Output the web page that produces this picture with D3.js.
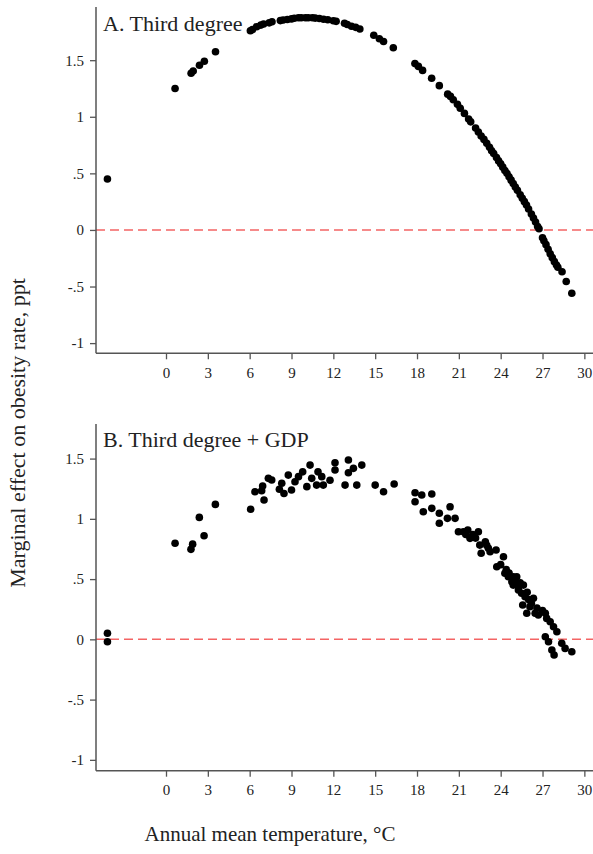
<!DOCTYPE html>
<html>
<head>
<meta charset="utf-8">
<script src="https://cdn.jsdelivr.net/npm/d3@7/dist/d3.min.js"></script>
<style>
  html, body { margin: 0; padding: 0; background: #fff; }
  svg { display: block; }
</style>
</head>
<body>
<svg id="chart" width="593" height="854"></svg>
<script>
// Marginal effect of annual mean temperature on the obesity rate (ppt)
const xTicks = [0, 3, 6, 9, 12, 15, 18, 21, 24, 27, 30];
const yTicks = [-1, -0.5, 0, 0.5, 1, 1.5];
const panelTitles = ["A. Third degree", "B. Third degree + GDP"];

// Panel A: [temperature °C, marginal effect]
const thirdDegree = [
  [-4.2,0.45],[0.65,1.25],[1.8,1.385],[1.95,1.405],[2.4,1.455],[2.75,1.49],[3.55,1.575],
  [6.05,1.76],[6.2,1.77],[6.5,1.795],[6.8,1.81],[7.0,1.82],[7.4,1.83],[7.6,1.84],[8.2,1.85],
  [8.4,1.855],[8.7,1.86],[9.0,1.865],[9.2,1.87],[9.5,1.875],[9.7,1.875],[10.0,1.875],
  [10.2,1.875],[10.5,1.875],[10.7,1.872],[11.0,1.868],[11.3,1.862],[11.6,1.857],[12.0,1.848],
  [12.2,1.843],[12.8,1.826],[13.0,1.815],[13.3,1.80],[13.6,1.79],[13.9,1.776],[14.9,1.72],
  [15.3,1.69],[15.6,1.665],[16.3,1.61],[17.85,1.47],[18.1,1.445],[18.4,1.41],[19.05,1.34],
  [19.6,1.275],[20.2,1.2],[20.4,1.18],[20.6,1.15],[20.9,1.11],[21.1,1.075],[21.4,1.03],
  [21.7,0.98],[21.85,0.955],[22.2,0.9],[22.4,0.865],[22.6,0.83],[22.8,0.80],[23.0,0.765],
  [23.2,0.73],[23.35,0.70],[23.5,0.675],[23.7,0.64],[23.85,0.61],[24.0,0.585],[24.15,0.555],
  [24.3,0.525],[24.45,0.50],[24.6,0.47],[24.75,0.44],[24.9,0.41],[25.05,0.38],[25.2,0.35],
  [25.4,0.31],[25.55,0.28],[25.7,0.25],[25.85,0.22],[26.0,0.185],[26.2,0.14],[26.35,0.105],
  [26.5,0.07],[26.65,0.03],[26.75,0.01],[27.0,-0.07],[27.1,-0.095],[27.25,-0.13],[27.4,-0.17],
  [27.55,-0.21],[27.7,-0.245],[27.85,-0.28],[28.0,-0.31],[28.1,-0.33],[28.4,-0.37],
  [28.7,-0.455],[29.1,-0.56]
];

// Panel B: [temperature °C, marginal effect], model with GDP control
const thirdDegreeGdp = [
  [-4.2,0.05],[-4.2,-0.02],
  [0.65,0.797],[1.79,0.747],[1.91,0.79],[2.39,1.012],[2.73,0.86],[3.54,1.12],
  [6.07,1.079],[6.38,1.225],[6.86,1.233],[6.93,1.272],[7.03,1.156],[7.34,1.336],[7.58,1.322],
  [8.13,1.245],[8.3,1.295],[8.46,1.21],[8.77,1.363],[9.0,1.239],[9.25,1.308],[9.5,1.35],
  [9.8,1.39],[10.1,1.267],[10.33,1.446],[10.45,1.336],[10.8,1.28],[10.9,1.39],[11.17,1.35],
  [11.28,1.28],[11.76,1.32],[12.12,1.466],[12.12,1.405],[12.84,1.28],[13.08,1.488],[13.08,1.383],
  [13.44,1.419],[13.68,1.28],[14.04,1.446],[15.0,1.28],[15.6,1.225],[16.36,1.289],
  [17.86,1.217],[17.86,1.142],[18.34,1.198],[18.45,1.059],[19.06,1.206],[19.06,1.087],
  [19.6,1.046],[19.6,0.963],[20.18,1.004],[20.37,1.10],[20.73,1.004],[20.97,0.893],
  [21.33,0.893],[21.5,0.87],[21.64,0.907],[21.8,0.838],[22.0,0.87],[22.2,0.84],[22.4,0.893],
  [22.5,0.782],[22.6,0.714],[22.9,0.81],[23.0,0.78],[23.12,0.755],[23.24,0.727],[23.67,0.741],
  [23.72,0.602],[24.0,0.62],[24.2,0.686],[24.3,0.548],[24.4,0.58],[24.55,0.52],[24.6,0.55],
  [24.8,0.478],[24.9,0.45],[24.9,0.52],[25.0,0.48],[25.15,0.52],[25.27,0.409],[25.3,0.44],
  [25.4,0.47],[25.5,0.382],[25.58,0.285],[25.63,0.45],[25.75,0.353],[25.87,0.216],[25.9,0.39],
  [26.0,0.33],[26.1,0.27],[26.2,0.30],[26.35,0.34],[26.47,0.216],[26.6,0.26],[26.7,0.202],
  [27.0,0.24],[27.2,0.216],[27.3,0.174],[27.55,0.146],[27.79,0.105],[28.03,0.063],
  [27.2,0.022],[27.43,-0.02],[27.67,-0.089],[27.83,-0.13],[28.38,-0.033],[28.62,-0.075],
  [29.1,-0.103]
];

const FONT = '"Liberation Serif", "Times New Roman", Tinos, "DejaVu Serif", serif';

const svg = d3.select("#chart");
const plotLeft = 96, plotRight = 593;

const x = d3.scaleLinear().domain([-5.02, 30.62]).range([plotLeft, plotRight]);

const panels = [
  { data: thirdDegree,    title: panelTitles[0], top: 7,   bottom: 353.3, yDomain: [-1.09, 1.97], titleY: 31 },
  { data: thirdDegreeGdp, title: panelTitles[1], top: 424, bottom: 770.7, yDomain: [-1.09, 1.787], titleY: 447 }
];

const fmt = v => {
  if (v === 0) return "0";
  return String(v).replace(/^(-?)0\./, "$1.");
};

panels.forEach(p => {
  const y = d3.scaleLinear().domain(p.yDomain).range([p.bottom, p.top]);
  const g = svg.append("g");

  // zero reference line
  g.append("line")
    .attr("x1", plotLeft).attr("x2", plotRight)
    .attr("y1", y(0)).attr("y2", y(0))
    .attr("stroke", "#f46464").attr("stroke-width", 1.5)
    .attr("stroke-dasharray", "9,5");

  // y axis
  const yAxis = g.append("g")
    .attr("transform", `translate(${plotLeft},0)`)
    .call(d3.axisLeft(y).tickValues(yTicks).tickFormat(fmt).tickSize(6).tickPadding(6));
  // x axis
  const xAxis = g.append("g")
    .attr("transform", `translate(0,${p.bottom})`)
    .call(d3.axisBottom(x).tickValues(xTicks).tickSize(6).tickPadding(8));

  [yAxis, xAxis].forEach(a => {
    a.attr("font-family", FONT).attr("font-size", 15);
    a.select(".domain").attr("stroke", "#555").attr("stroke-width", 1.5);
    a.selectAll(".tick line").attr("stroke", "#555").attr("stroke-width", 1.3);
    a.selectAll(".tick text").attr("fill", "#222");
  });
  yAxis.select(".domain").attr("d", `M0,${p.top}V${p.bottom}`);
  xAxis.select(".domain").attr("d", `M${plotLeft},0H${plotRight}`);

  // points
  g.append("g").selectAll("circle")
    .data(p.data)
    .join("circle")
    .attr("cx", d => x(d[0]))
    .attr("cy", d => y(d[1]))
    .attr("r", 3.8)
    .attr("fill", "#000");

  // panel title
  g.append("text")
    .attr("x", 103).attr("y", p.titleY)
    .attr("font-family", FONT).attr("font-size", 22).attr("fill", "#222")
    .text(p.title);
});

// axis titles
svg.append("text")
  .attr("transform", "translate(25,433) rotate(-90)")
  .attr("text-anchor", "middle")
  .attr("font-family", FONT).attr("font-size", 22).attr("fill", "#222")
  .text("Marginal effect on obesity rate, ppt");

svg.append("text")
  .attr("x", 270).attr("y", 841)
  .attr("text-anchor", "middle")
  .attr("font-family", FONT).attr("font-size", 21).attr("fill", "#222")
  .text("Annual mean temperature, °C");
</script>
</body>
</html>
